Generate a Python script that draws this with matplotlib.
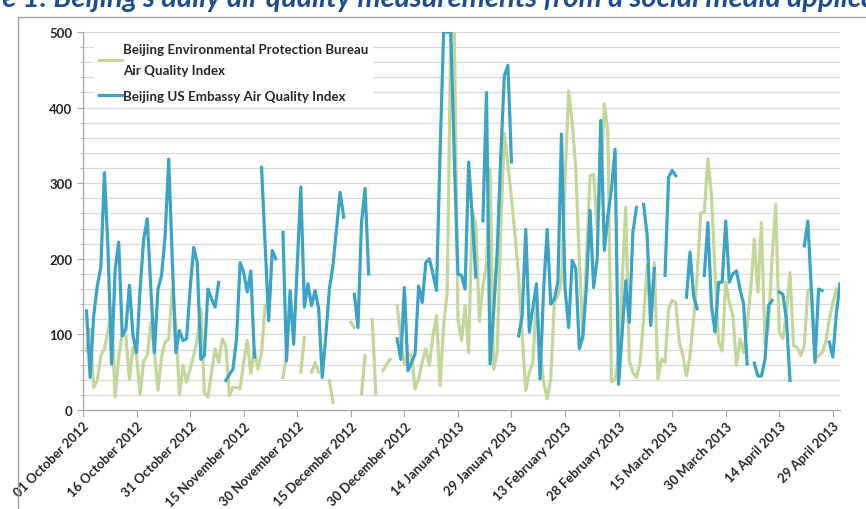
import numpy as np
import pandas as pd
import matplotlib
matplotlib.use('Agg')
import matplotlib.pyplot as plt
from matplotlib.patches import Rectangle
from matplotlib.ticker import MultipleLocator, FixedLocator

# daily readings, first value is 02 October 2012 (None = no reading)
start_date = '2012-10-02'

bureau_aqi = [
    78, 107, 30, 39, 72, 81, 105, 135, 17, 70,
    103, 98, 41, 83, 72, 21, 65, 72, 116, 76,
    26, 70, 90, 94, 160, 112, 21, 59, 37, 54,
    72, 94, 134, 23, 17, 50, 81, 63, 94, 85,
    19, 30, 30, 28, 63, 92, 48, 81, 54, 76,
    138, None, None, None, None, 43, 72, None, 54, None,
    50, 96, None, 50, 63, 50, None, None, 39, 10,
    None, None, None, None, 116, 109, None, 21, 72, None,
    120, 21, None, 52, 60, 67, None, 138, 94, 60,
    75, 72, 28, 41, 63, 81, 59, 98, 125, 32,
    112, 156, 500, 500, 120, 92, 138, 76, 264, 246,
    117, 164, 193, 319, 54, 76, 241, 366, 324, 280,
    231, 176, 98, 26, 50, 63, 147, 81, 37, 15,
    41, 142, 151, 170, 305, 422, 380, 319, 200, 92,
    200, 310, 312, 240, 297, 405, 367, 37, 40, 72,
    173, 268, 65, 50, 43, 63, 120, 191, 112, 195,
    41, 67, 63, 134, 145, 142, 90, 72, 45, 72,
    120, 178, 261, 261, 332, 284, 182, 90, 78, 169,
    142, 125, 59, 94, 76, 112, 160, 226, 156, 248,
    85, 112, 204, 272, 103, 94, 129, 182, 85, 83,
    72, 85, 158, 160, 67, 72, 76, 90, 120, 142,
    160, None,
]

embassy_aqi = [
    131, 43, 125, 164, 189, 314, 213, 61, 186, 222,
    98, 107, 165, 98, 76, 160, 226, 253, 160, 76,
    160, 178, 230, 332, 200, 76, 105, 92, 94, 160,
    215, 195, 67, 72, 160, 147, 136, 169, None, 39,
    47, 54, 94, 195, 182, 156, 184, 70, None, 321,
    220, 118, 211, 200, None, 235, 65, 158, 87, 190,
    295, 136, 167, 138, 158, 134, 43, 98, 160, 191,
    240, 288, 255, None, None, 153, 109, 248, 293, 180,
    None, None, None, None, None, None, None, 94, 67, 162,
    52, 63, 74, 164, 142, 195, 200, 180, 158, 340,
    500, 500, 500, 330, 180, 178, 160, 328, 257, 176,
    None, 250, 420, 61, 130, 209, 336, 442, 456, 328,
    None, 98, 125, 239, 103, 136, 167, 41, 160, 239,
    140, 147, 169, 365, 160, 109, 198, 187, 81, 98,
    164, 264, 162, 200, 383, 211, 257, 292, 345, 34,
    103, 171, 116, 235, 268, None, 272, 231, 112, 187,
    None, None, 178, 308, 317, 310, None, None, 149, 209,
    151, 134, None, 178, 248, 138, 103, 169, 169, 250,
    169, 180, 184, 160, 140, 61, None, 62, 45, 45,
    67, 138, 145, None, 156, 153, 120, 39, None, None,
    None, 217, 250, 156, 63, 160, 158, None, 90, 70,
    129, 167,
]

tick_dates = pd.date_range('2012-10-01', '2013-04-29', freq='15D')

title = "Figure 1: Beijing's daily air quality measurements from a social media application"
bureau_label = 'Beijing Environmental Protection Bureau\nAir Quality Index'
embassy_label = 'Beijing US Embassy Air Quality Index'

green = '#C4D79B'
blue = '#3BA3C6'
grid_grey = '#D9D9D9'
text_dark = '#262626'

plt.rcParams['font.family'] = ['Lato', 'DejaVu Sans']

W, H = 866, 510
fig = plt.figure(figsize=(W / 100, H / 100), dpi=100)
ax = fig.add_axes([83 / W, 1 - 411 / H, (840 - 83) / W, (411 - 33) / H])

dates = pd.date_range(start_date, periods=len(embassy_aqi), freq='D')
bureau = np.array([np.nan if v is None else v for v in bureau_aqi], dtype=float)
embassy = np.array([np.nan if v is None else v for v in embassy_aqi], dtype=float)

ax.plot(dates, bureau, color=green, lw=2.3, label=bureau_label, solid_joinstyle='round')
ax.plot(dates, embassy, color=blue, lw=2.3, label=embassy_label, solid_joinstyle='round')

ax.set_xlim(pd.Timestamp('2012-10-01'), pd.Timestamp('2013-05-01'))
ax.set_ylim(0, 500)

ax.yaxis.set_major_locator(MultipleLocator(100))
ax.yaxis.set_minor_locator(MultipleLocator(20))
ax.grid(axis='y', which='both', color=grid_grey, lw=0.9)
ax.set_axisbelow(True)

ax.xaxis.set_major_locator(FixedLocator(matplotlib.dates.date2num(tick_dates)))
ax.set_xticklabels([d.strftime('%d %B %Y') for d in tick_dates], rotation=45,
                   ha='right', rotation_mode='anchor', fontsize=9.4, fontweight='bold',
                   color=text_dark)
for lab in ax.get_yticklabels():
    lab.set_fontweight('bold')
ax.tick_params(axis='y', which='major', labelsize=9.5, labelcolor=text_dark,
               length=4, color='#A6A6A6')
ax.tick_params(axis='y', which='minor', length=2, color='#A6A6A6')
ax.tick_params(axis='x', length=5, color='#A6A6A6', pad=2)

for side in ['top', 'right']:
    ax.spines[side].set_visible(False)
for side in ['left', 'bottom']:
    ax.spines[side].set_color('#A6A6A6')
    ax.spines[side].set_linewidth(0.9)

leg = ax.legend(loc='upper left', bbox_to_anchor=(0.006, 1.0), frameon=True,
                fancybox=False, edgecolor='none', facecolor='white', framealpha=1,
                handlelength=1.7, handletextpad=0.1, labelspacing=1.0,
                borderpad=0.35, prop=dict(weight='bold', size=9.6))
for t in leg.get_texts():
    t.set_color(text_dark)
    t.set_linespacing(1.9)

# outer frame of the figure box
fig.patches.append(Rectangle((18 / W, -0.1), 1.2, 1.1 - 18 / H, transform=fig.transFigure,
                             fill=False, edgecolor='#A0A0A0', lw=1))

# title, cut off at the top of the picture
title_kw = dict(fontsize=21, fontweight='bold', fontstyle='italic', color='#1F4E8C')
renderer = fig.canvas.get_renderer()
probe = fig.text(0, 0, 'Figur', **title_kw)
prefix_w = probe.get_window_extent(renderer).width
probe.remove()
fig.text((2 - prefix_w) / W, 1 - 7 / H, title, va='baseline', **title_kw)

fig.savefig('out.png', dpi=100)
